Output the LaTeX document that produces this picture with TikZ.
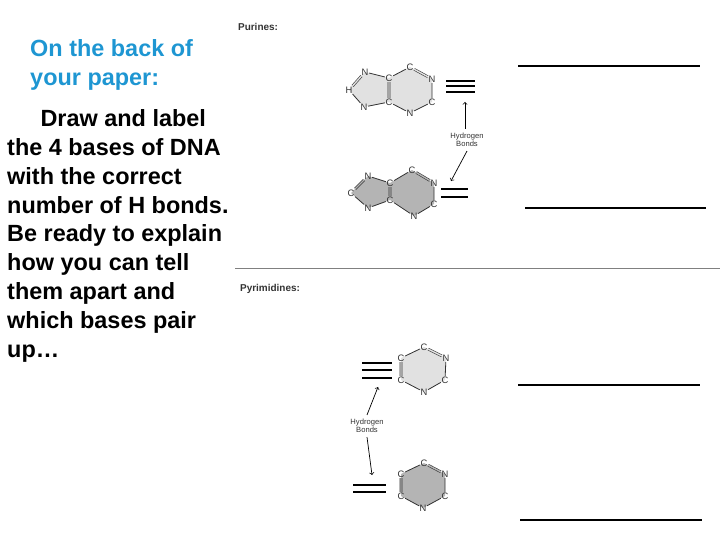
\documentclass[tikz,border=0pt]{standalone}
\usepackage{fontspec}
\setmainfont{Liberation Sans}
\usetikzlibrary{positioning, backgrounds}
\definecolor{notecolor}{RGB}{30, 150, 210}
\definecolor{lightring}{RGB}{225, 225, 225}
\definecolor{darkring}{RGB}{180, 180, 180}

\begin{document}
\begin{tikzpicture}[x=0.03cm, y=-0.03cm,
    atom/.style={font=\fontsize{8}{8}\selectfont, inner sep=0.5pt, text=black!80},
    bond/.style={black!80, line width=0.7pt},
    dbond/.style={black!80, line width=0.5pt, double distance=1.2pt},
    hbond/.style={line width=1.8pt},
    answer/.style={line width=1.6pt},
    tag/.style={font=\fontsize{8.5}{8.5}\selectfont\bfseries, anchor=west, text=black!80},
    hlabel/.style={font=\fontsize{6.5}{7}\selectfont, align=center, text=black!80},
    pointer/.style={->, line width=0.6pt}
]
\useasboundingbox (0,0) rectangle (720,540);

% Left instructions
\node[anchor=north west, text=notecolor, font=\fontsize{20}{24.7}\selectfont\bfseries, align=left, inner sep=0] (note) at (30,39) {On the back of\\your paper:};
\node[anchor=north west, font=\fontsize{20}{24.7}\selectfont\bfseries, align=left, inner sep=0] (task) at (7,109)
  {\hspace*{1.0cm}Draw and label\\the 4 bases of DNA\\with the correct\\number of H bonds.\\Be ready to explain\\how you can tell\\them apart and\\which bases pair\\up\ldots};

% Section headers and divider
\node[tag] (purines) at (234,27) {Purines:};
\node[tag] (pyrimidines) at (236,289) {Pyrimidines:};
\coordinate (divL) at (235,268);
\coordinate (divR) at (720,268);
\draw[gray, line width=0.8pt] (divL) -- (divR);

% Answer lines
\foreach \n/\xa/\xb/\yy in {1/518/700/66, 2/525/706/208, 3/518/700/385, 4/520/702/520} {
  \coordinate (ans\n a) at (\xa,\yy);
  \coordinate (ans\n b) at (\xb,\yy);
  \draw[answer] (ans\n a) -- (ans\n b);
}

% Purine 1
\node[atom] (a1) at (365,72) {N};
\node[atom] (a2) at (349,90) {H};
\node[atom] (a3) at (364,107) {N};
\node[atom] (a4) at (389,102) {C};
\node[atom] (a5) at (389,78) {C};
\node[atom] (a6) at (410,67) {C};
\node[atom] (a7) at (432,79) {N};
\node[atom] (a8) at (432,102) {C};
\node[atom] (a9) at (410,113) {N};
\begin{scope}[on background layer]
  \fill[lightring] (a1.center) -- (a5.center) -- (a6.center) -- (a7.center) -- (a8.center) -- (a9.center) -- (a4.center) -- (a3.center) -- (a2.center) -- cycle;
\end{scope}
\draw[bond] (a1) -- (a5) (a2) -- (a3) (a3) -- (a4) (a5) -- (a6) (a7) -- (a8) (a8) -- (a9) (a9) -- (a4);
\draw[dbond, double=lightring] (a1) -- (a2) (a4) -- (a5) (a6) -- (a7);

% Purine 2
\node[atom] (b1) at (368,176) {N};
\node[atom] (b2) at (351,193) {C};
\node[atom] (b3) at (368,208) {N};
\node[atom] (b4) at (390,200) {C};
\node[atom] (b5) at (390,183) {C};
\node[atom] (b6) at (412,170) {C};
\node[atom] (b7) at (434,183) {N};
\node[atom] (b8) at (434,204) {C};
\node[atom] (b9) at (414,216) {N};
\begin{scope}[on background layer]
  \fill[darkring] (b1.center) -- (b5.center) -- (b6.center) -- (b7.center) -- (b8.center) -- (b9.center) -- (b4.center) -- (b3.center) -- (b2.center) -- cycle;
\end{scope}
\draw[bond] (b1) -- (b5) (b2) -- (b3) (b3) -- (b4) (b5) -- (b6) (b7) -- (b8) (b8) -- (b9) (b9) -- (b4);
\draw[dbond, double=darkring] (b1) -- (b2) (b4) -- (b5) (b6) -- (b7);

% Purine hydrogen bonds
\foreach \i/\yy in {1/81, 2/86, 3/92} {
  \coordinate (pt\i a) at (446,\yy);
  \coordinate (pt\i b) at (475,\yy);
  \draw[hbond] (pt\i a) -- (pt\i b);
}
\foreach \i/\yy in {1/189, 2/197} {
  \coordinate (pd\i a) at (441,\yy);
  \coordinate (pd\i b) at (468,\yy);
  \draw[hbond] (pd\i a) -- (pd\i b);
}
\node[hlabel] (hb1) at (467,140) {Hydrogen\\Bonds};
\coordinate (hb1up) at (465,102);
\coordinate (hb1dn) at (451,181);
\draw[pointer] (hb1.north -| hb1up) -- (hb1up);
\draw[pointer] (hb1.south) -- (hb1dn);

% Pyrimidine 1
\node[atom] (c1) at (424,347) {C};
\node[atom] (c2) at (446,358) {N};
\node[atom] (c3) at (445,380) {C};
\node[atom] (c4) at (424,392) {N};
\node[atom] (c5) at (401,380) {C};
\node[atom] (c6) at (401,358) {C};
\begin{scope}[on background layer]
  \fill[lightring] (c1.center) -- (c2.center) -- (c3.center) -- (c4.center) -- (c5.center) -- (c6.center) -- cycle;
\end{scope}
\draw[bond] (c2) -- (c3) (c3) -- (c4) (c4) -- (c5) (c6) -- (c1);
\draw[dbond, double=lightring] (c1) -- (c2) (c5) -- (c6);

% Pyrimidine 2
\node[atom] (d1) at (424,463) {C};
\node[atom] (d2) at (445,474) {N};
\node[atom] (d3) at (445,496) {C};
\node[atom] (d4) at (423,508) {N};
\node[atom] (d5) at (401,496) {C};
\node[atom] (d6) at (401,474) {C};
\begin{scope}[on background layer]
  \fill[darkring] (d1.center) -- (d2.center) -- (d3.center) -- (d4.center) -- (d5.center) -- (d6.center) -- cycle;
\end{scope}
\draw[bond] (d2) -- (d3) (d3) -- (d4) (d4) -- (d5) (d6) -- (d1);
\draw[dbond, double=darkring] (d1) -- (d2) (d5) -- (d6);

% Pyrimidine hydrogen bonds
\foreach \i/\yy in {1/363, 2/370, 3/378} {
  \coordinate (yt\i a) at (362,\yy);
  \coordinate (yt\i b) at (392,\yy);
  \draw[hbond] (yt\i a) -- (yt\i b);
}
\foreach \i/\yy in {1/485, 2/492} {
  \coordinate (yd\i a) at (353,\yy);
  \coordinate (yd\i b) at (386,\yy);
  \draw[hbond] (yd\i a) -- (yd\i b);
}
\node[hlabel] (hb2) at (367,426) {Hydrogen\\Bonds};
\coordinate (hb2up) at (378,387);
\coordinate (hb2dn) at (372,475);
\draw[pointer] (hb2.north) -- (hb2up);
\draw[pointer] (hb2.south) -- (hb2dn);

\end{tikzpicture}
\end{document}
